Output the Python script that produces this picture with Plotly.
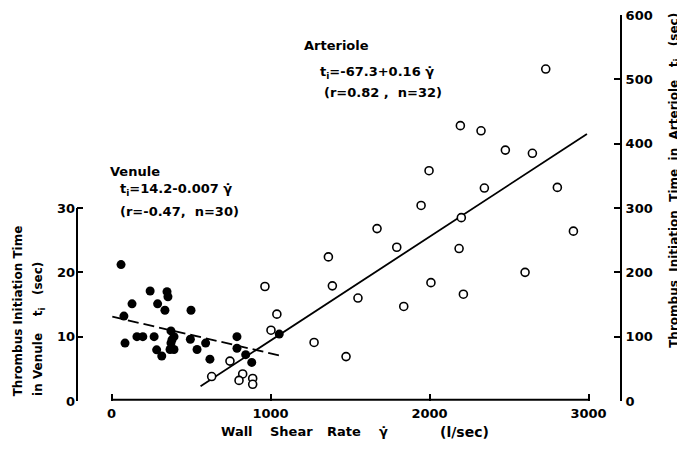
import plotly.graph_objects as go

# ---- data ----
venule_x = [60, 78, 85, 129, 197, 243, 268, 290, 284, 316, 336, 349, 355, 374, 374,
            368, 393, 393, 500, 496, 538, 592, 619, 789, 789, 844, 882, 1055, 380, 160]
venule_y = [21.2, 13.2, 9.0, 15.1, 10.0, 17.1, 10.0, 15.1, 7.95, 7.0, 14.1, 17.0, 16.2,
            10.9, 9.0, 8.0, 8.0, 10.0, 14.1, 9.6, 8.0, 9.0, 6.5, 10.0, 8.2, 7.2, 6.0,
            10.4, 9.5, 10.0]

arteriole_x = [2731, 2194, 2324, 2477, 2647, 1997, 2345, 2804, 1947, 2200, 1670, 2905,
               1794, 2186, 1364, 1389, 2009, 2601, 1550, 2213, 1838, 1274, 1040, 965,
               1003, 630, 745, 825, 802, 888, 888, 1475]
arteriole_y = [516, 428, 420, 390, 385, 358, 331, 332, 304, 285, 268, 264, 239, 237,
               224, 179, 184, 200, 160, 166, 147, 91, 135, 178, 110, 38, 62, 42, 32,
               35, 26, 69]

venule_fit_x = [5, 1072]
venule_fit_y = [13.1, 7.0]
arteriole_fit_x = [560, 2990]
arteriole_fit_y = [23, 415]

x_ticks = [0, 1000, 2000, 3000]
left_ticks = [0, 10, 20, 30]
right_ticks = [0, 100, 200, 300, 400, 500, 600]

x_title_words = ["Wall", "Shear", "Rate", "γ̇", "(l/sec)"]
x_title_pos = [792, 1132, 1465, 1711, 2223]

FONT = "DejaVu Sans"
NB = "\u00a0"

fig = go.Figure()

fig.add_trace(go.Scatter(
    x=arteriole_fit_x, y=arteriole_fit_y, yaxis="y2", mode="lines",
    line=dict(color="black", width=1.8), showlegend=False, hoverinfo="skip"))
fig.add_trace(go.Scatter(
    x=venule_fit_x, y=venule_fit_y, yaxis="y", mode="lines",
    line=dict(color="black", width=1.8, dash="11px,5px"), showlegend=False, hoverinfo="skip"))
fig.add_trace(go.Scatter(
    x=arteriole_x, y=arteriole_y, yaxis="y2", mode="markers", name="Arteriole",
    marker=dict(symbol="circle", size=8, color="white", line=dict(color="black", width=1.6)),
    showlegend=False))
fig.add_trace(go.Scatter(
    x=venule_x, y=venule_y, yaxis="y", mode="markers", name="Venule",
    marker=dict(symbol="circle", size=9, color="black", line=dict(width=0)),
    showlegend=False))

tickfont = dict(family=FONT, size=13, color="black", weight="bold")

# the page body adds an 8px offset, so the figure is sized to fit the window
fig.update_layout(
    width=677, height=444,
    margin=dict(l=69, r=65, t=7, b=51, autoexpand=False),
    paper_bgcolor="white", plot_bgcolor="white",
    font=dict(family=FONT, color="black"),
    xaxis=dict(range=[-217, 3198], tickvals=x_ticks, ticks="inside", ticklen=7,
               tickwidth=2, tickcolor="black", showline=False, showgrid=False,
               zeroline=False, tickfont=tickfont, ticklabelstandoff=3,
               ticklabeloverflow="allow", automargin=False),
    yaxis=dict(range=[0, 60], tickvals=left_ticks, ticks="inside", ticklen=6,
               tickwidth=2, tickcolor="black", showline=False, showgrid=False,
               zeroline=False, tickfont=tickfont, ticklabelstandoff=1,
               ticklabeloverflow="allow", automargin=False),
    yaxis2=dict(range=[0, 600], tickvals=right_ticks, ticks="inside", ticklen=6,
                tickwidth=2, tickcolor="black", showline=True, linewidth=2,
                linecolor="black", showgrid=False, zeroline=False, overlaying="y",
                side="right", tickfont=tickfont, ticklabelstandoff=1,
                ticklabeloverflow="allow", automargin=False),
)

# custom axis lines (partial extents)
fig.add_shape(type="line", xref="paper", yref="y", x0=0, x1=0, y0=0, y1=30,
              line=dict(color="black", width=2))
fig.add_shape(type="line", xref="x", yref="paper", x0=0, x1=3000, y0=0.003, y1=0.003,
              line=dict(color="black", width=2))

txt = dict(family=FONT, size=13, color="black", weight="bold")

def ann(text, x, y, xref="x", yref="y2", **kw):
    d = dict(text=text, x=x, y=y, xref=xref, yref=yref, showarrow=False,
             font=txt, xanchor="left", yanchor="middle")
    d.update(kw)
    fig.add_annotation(**d)

ann("Venule", -22, 356)
ann("t<sub>i</sub>=14.2-0.007" + NB + "γ̇", 41, 328)
ann("(r=-0.47," + NB * 2 + "n=30)", 41, 295)
ann("Arteriole", 1198, 553)
ann("t<sub>i</sub>=-67.3+0.16" + NB + "γ̇", 1299, 511)
ann("(r=0.82" + NB + "," + NB * 2 + "n=32)", 1324, 480)

# x axis title, word by word
for w, xp in zip(x_title_words, x_title_pos):
    ann(w, xp, -0.08, yref="paper", xanchor="center",
        font=dict(txt, size=14 if w.startswith("(") else 13))

# y axis titles
ann("Thrombus" + NB + "Initiation" + NB + "Time", -0.107, 0.008, xref="paper", yref="paper",
    textangle=-90, xanchor="center", yanchor="bottom", font=dict(txt, size=12))
ann("in" + NB + "Venule" + NB * 4 + "t<sub>i</sub>" + NB * 3 + "(sec)", -0.07, 0.008,
    xref="paper", yref="paper", textangle=-90, xanchor="center", yanchor="bottom",
    font=dict(txt, size=12))
ann("Thrombus" + NB + NB + "Initiation" + NB + NB + "Time" + NB + NB + "in" + NB + NB +
    "Arteriole" + NB * 3 + "t<sub>i</sub>" + NB * 3 + "(sec)",
    1.1, 0.132, xref="paper", yref="paper", textangle=-90,
    xanchor="center", yanchor="bottom", font=dict(txt, size=12))

fig.write_html("out.html")
